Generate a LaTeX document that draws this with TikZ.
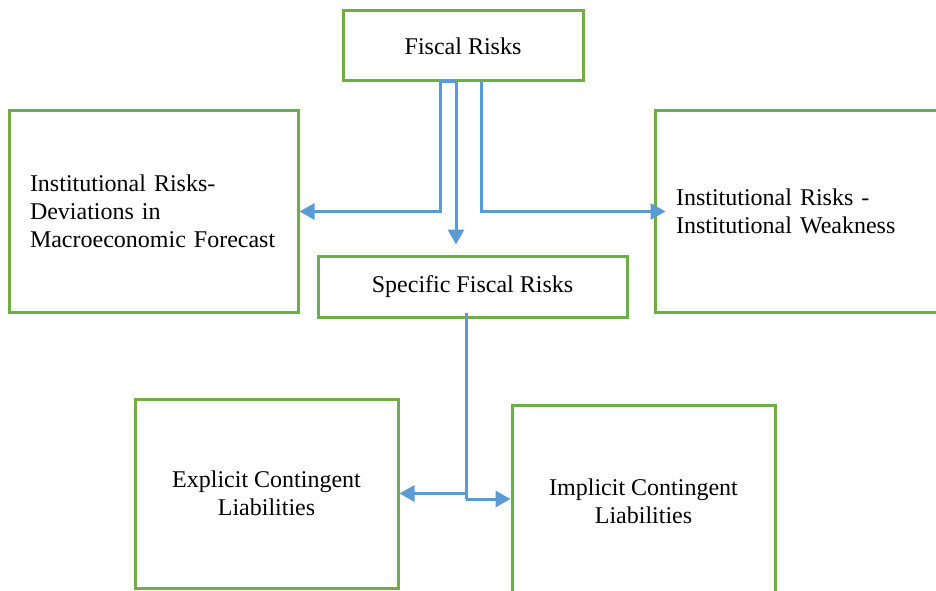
\documentclass[tikz,border=0pt]{standalone}
\usepackage{fontspec}
\setmainfont{Liberation Serif}
\usetikzlibrary{arrows.meta,calc}
\definecolor{boxgreen}{HTML}{70AD47}
\definecolor{arrblue}{HTML}{5B9BD5}
\begin{document}
\begin{tikzpicture}[x=1pt,y=-1pt,
  gbox/.style={draw=boxgreen,line width=3pt,inner sep=0pt,font=\fontsize{24}{28}\selectfont},
  conn/.style={draw=arrblue,line width=3pt,-{Triangle[length=15pt,width=16pt]}},
  plain/.style={draw=arrblue,line width=3pt}]
\useasboundingbox (0,0) rectangle (936,591);
\clip (0,0) rectangle (936,591);
\node[gbox,minimum width=240pt,minimum height=70pt] (fr) at (463,46) {Fiscal Risks};
\node[gbox,minimum width=289pt,minimum height=201pt,text width=247pt,align=left] (lb) at (153.5,211.5) {Institutional Risks-\\Deviations in\\Macroeconomic Forecast};
\node[gbox,minimum width=295pt,minimum height=201pt,text width=253pt,align=left] (rb) at (802.5,211.5) {Institutional Risks -\\Institutional Weakness};
\node[gbox,minimum width=309pt,minimum height=61pt] (sp) at (472.5,286.5) {Specific Fiscal Risks};
\node[gbox,minimum width=263pt,minimum height=189pt,align=center] (ex) at (266.5,493.5) {Explicit Contingent\\Liabilities};
\node[gbox,minimum width=263pt,minimum height=192pt,align=center] (im) at (643.5,501) {Implicit Contingent\\Liabilities};
% top connectors
\coordinate (t1) at (440,82);
\coordinate (t2) at (456,82);
\coordinate (t3) at (481,82);
\draw[plain] (t2) -- (t1);
\draw[conn] (t1) |- (lb.east);
\draw[conn] (t2) -- (t2 |- sp.north) [shorten >=10pt];
\draw[conn] (t3) |- ($(rb.west)+(12,0)$);
% bottom connectors
\coordinate (b0) at (466,313);
\coordinate (b1) at (466,493.5);
\coordinate (b2) at (466,499);
\draw[conn] (b0) -- (b1) -- (ex.east);
\draw[plain] (b1) -- (b2);
\draw[conn] (b2) -- (b2 -| im.west);
\end{tikzpicture}
\end{document}
